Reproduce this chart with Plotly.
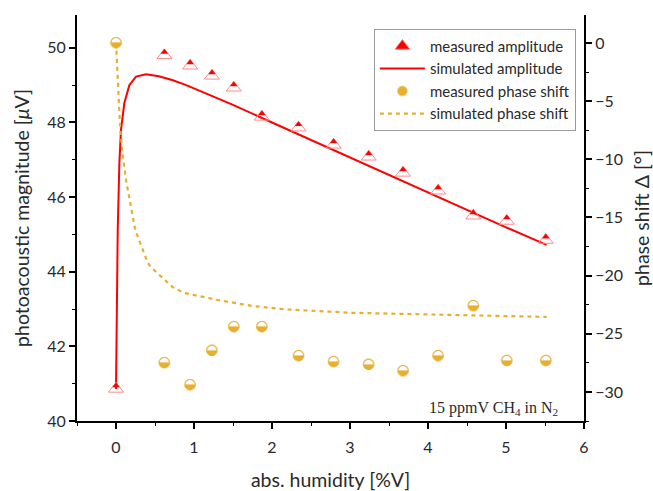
import plotly.graph_objects as go

# ---------------- data ----------------
hum_meas = [0, 0.62, 0.95, 1.23, 1.51, 1.87, 2.34, 2.79, 3.24, 3.68, 4.13, 4.58, 5.01, 5.51]
amp_meas = [40.86, 49.8, 49.52, 49.25, 48.93, 48.15, 47.86, 47.4, 47.08, 46.65, 46.17, 45.5, 45.36, 44.85]
phase_meas = [0, -27.5, -29.4, -26.4, -24.4, -24.4, -26.9, -27.4, -27.6, -28.2, -26.9, -22.6, -27.3, -27.3]

hum_sim_amp = [0, 0.005, 0.01, 0.022, 0.043, 0.064, 0.107, 0.171, 0.257, 0.386, 0.55, 0.729,
               0.9, 1.157, 1.5, 2.0, 3.0, 4.0, 5.0, 5.52]
amp_sim = [40.86, 42.0, 43.2, 45.1, 46.9, 47.8, 48.52, 49.0, 49.23, 49.29, 49.24, 49.13,
           49.0, 48.78, 48.47, 48.0, 47.06, 46.12, 45.19, 44.72]

hum_sim_phase = [0, 0.022, 0.055, 0.086, 0.129, 0.248, 0.407, 0.45, 0.729, 0.878, 1.157, 1.307,
                 1.735, 2.16, 3.02, 3.66, 4.56, 5.52]
phase_sim = [0, -3.2, -7.5, -9.6, -11.8, -16.1, -18.9, -19.3, -21.0, -21.5, -21.9, -22.1,
             -22.6, -22.9, -23.2, -23.3, -23.4, -23.55]

x_ticks = [0, 1, 2, 3, 4, 5, 6]
y_ticks = [40, 42, 44, 46, 48, 50]
y2_ticks = [0, -5, -10, -15, -20, -25, -30]

# ---------------- style ----------------
RED = "#ff0000"
PINK = "#ff8a8a"
ORANGE = "#e8ae2e"
LIGHT_OR = "#f2d48e"
FONT = "Lato"
TXT = "#2a2a2a"

W, H = 653, 491
ML, MR, MT, MB = 77, 69, 15, 70
PLOT_H = H - MT - MB
X_RANGE = [-0.5, 6.0]
Y_RANGE = [40, 50.88]
Y2_RANGE = [-32.5, 2.4]
TRI = 13
shift = (TRI / 4) * (Y_RANGE[1] - Y_RANGE[0]) / PLOT_H

fig = go.Figure()

# legend-only entries (draw nothing)
fig.add_trace(go.Scatter(x=[None], y=[None], mode="markers", name="measured amplitude",
                         marker=dict(symbol="triangle-up", size=TRI, color=RED,
                                     line=dict(color=PINK, width=1))))
fig.add_trace(go.Scatter(x=hum_sim_amp, y=amp_sim, mode="lines", name="simulated amplitude",
                         line=dict(color=RED, width=2)))
fig.add_trace(go.Scatter(x=[None], y=[None], mode="markers", name="measured phase shift",
                         yaxis="y2",
                         marker=dict(symbol="circle", size=10, color=ORANGE,
                                     line=dict(color=LIGHT_OR, width=1))))
fig.add_trace(go.Scatter(x=hum_sim_phase, y=phase_sim, mode="lines", name="simulated phase shift",
                         yaxis="y2", line=dict(color=ORANGE, width=2.2, dash="4px,4px")))

# measured amplitude: open outline + filled top half
fig.add_trace(go.Scatter(x=hum_meas, y=amp_meas, mode="markers", showlegend=False,
                         marker=dict(symbol="triangle-up-open", size=TRI, color=PINK,
                                     line=dict(color=PINK, width=1))))
fig.add_trace(go.Scatter(x=hum_meas, y=amp_meas, mode="markers", showlegend=False, yaxis="y3",
                         marker=dict(symbol="triangle-up", size=TRI / 2, color=RED,
                                     line=dict(width=0))))

# measured phase shift: half-filled circle glyph
fig.add_trace(go.Scatter(x=hum_meas, y=phase_meas, mode="markers", showlegend=False, yaxis="y2",
                         marker=dict(symbol="circle-open", size=11, color=LIGHT_OR,
                                     line=dict(color=LIGHT_OR, width=1))))
fig.add_trace(go.Scatter(x=hum_meas, y=phase_meas, mode="text", showlegend=False, yaxis="y2",
                         text=["\u25D2"] * len(hum_meas), textposition="middle center",
                         textfont=dict(family="DejaVu Sans", size=14, color=ORANGE)))

axis_common = dict(showline=True, linecolor="black", linewidth=2, ticks="outside",
                   ticklen=6, tickwidth=1.5, tickcolor="black", showgrid=False, zeroline=False,
                   tickfont=dict(family=FONT, size=16, color=TXT), mirror=False,
                   automargin=False)
title_font = dict(family=FONT, size=19.5, color=TXT)

fig.update_layout(
    width=W, height=H,
    margin=dict(l=ML, r=MR, t=MT, b=MB, autoexpand=False),
    plot_bgcolor="white", paper_bgcolor="white",
    xaxis=dict(range=X_RANGE, tickvals=x_ticks, **axis_common, ticklabelstandoff=5,
               minor=dict(dtick=0.5, ticks="outside", ticklen=3, tickcolor="black", tickwidth=1.2),
               title=dict(text="abs. humidity [%V]", font=title_font, standoff=20)),
    yaxis=dict(range=Y_RANGE, tickvals=y_ticks, **axis_common,
               minor=dict(dtick=1, ticks="outside", ticklen=3, tickcolor="black", tickwidth=1.2),
               title=dict(text="photoacoustic magnitude [<i>\u03bc</i>V]",
                          font=title_font, standoff=12)),
    yaxis2=dict(range=Y2_RANGE, tickvals=y2_ticks, overlaying="y", side="right", anchor="x",
                **axis_common,
                minor=dict(dtick=2.5, ticks="outside", ticklen=3, tickcolor="black", tickwidth=1.2),
                title=dict(text="phase shift \u0394 [\u00b0]", font=title_font, standoff=14)),
    yaxis3=dict(range=[Y_RANGE[0] - shift, Y_RANGE[1] - shift], overlaying="y", anchor="x",
                visible=False),
    legend=dict(x=0.984, xanchor="right", y=0.966, yanchor="top",
                bordercolor="#9a9a9a", borderwidth=1, bgcolor="white",
                font=dict(family=FONT, size=15, color=TXT), itemwidth=45,
                tracegroupgap=0),
    annotations=[dict(text="15 ppmV CH<sub>4</sub> in N<sub>2</sub>", xref="paper", yref="paper",
                      x=0.822, y=0.03, xanchor="center", yanchor="middle", showarrow=False,
                      font=dict(family="Liberation Serif", size=16, color=TXT))],
)

fig.write_html("out.html")
